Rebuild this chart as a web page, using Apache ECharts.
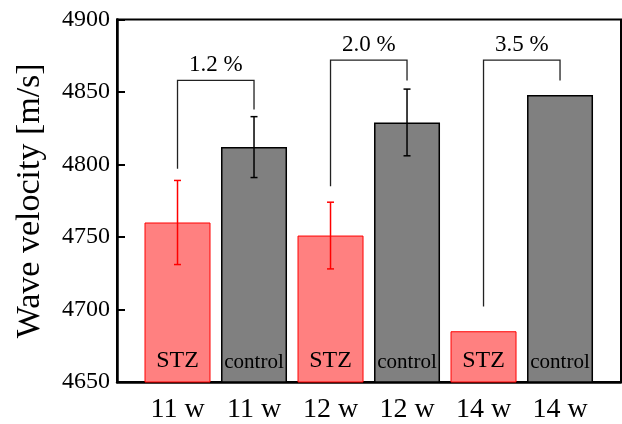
<!DOCTYPE html>
<html>
<head>
<meta charset="utf-8">
<script src="https://cdn.jsdelivr.net/npm/echarts@6/dist/echarts.min.js"></script>
<style>html,body{margin:0;padding:0;background:#fff}#c{width:622px;height:424px}</style>
</head>
<body>
<div id="c"></div>
<script>
// ---- data ----
const categories = ['11 w', '11 w', '12 w', '12 w', '14 w', '14 w'];
const groups = ['STZ', 'control', 'STZ', 'control', 'STZ', 'control'];
const values = [4760, 4812, 4751, 4829, 4685, 4848];
const errors = [29, 21, 23, 23, null, null];
const yTicks = [4650, 4700, 4750, 4800, 4850, 4900];
// brackets: left index, right index, top value, left end value, right end value
const bracketLeft = [0, 2, 4];
const bracketRight = [1, 3, 5];
const bracketTop = [4858, 4872, 4872];
const bracketLeftEnd = [4797, 4785, 4702];
const bracketRightEnd = [4838, 4858, 4858];
const bracketLabels = ['1.2 %', '2.0 %', '3.5 %'];

// ---- styles ----
const FONT = '"Liberation Serif", "Times New Roman", serif';
const groupStyle = {
  STZ: { fill: '#ff8080', border: '#ff0000', borderWidth: 1, err: '#ff0000', labelSize: 24 },
  control: { fill: '#808080', border: '#000000', borderWidth: 1.5, err: '#000000', labelSize: 21 }
};

const barData = values.map((v, i) => {
  const s = groupStyle[groups[i]];
  return {
    value: [i, v],
    itemStyle: { color: s.fill, borderColor: s.border, borderWidth: s.borderWidth },
    label: {
      show: true, position: 'insideBottom', distance: 10,
      formatter: groups[i], fontFamily: FONT, fontSize: s.labelSize, color: '#000'
    }
  };
});

const errData = [];
values.forEach((v, i) => {
  if (errors[i] != null) errData.push([i, v - errors[i], v + errors[i], i]);
});

const bracketData = bracketLeft.map((l, k) => [l, bracketRight[k], bracketTop[k], bracketLeftEnd[k], bracketRightEnd[k]]);

const chart = echarts.init(document.getElementById('c'), null, { renderer: 'canvas' });
chart.setOption({
  animation: false,
  grid: { left: 117, right: 1, top: 19.5, bottom: 42, show: true, borderColor: '#000', borderWidth: 2, containLabel: false },
  xAxis: {
    type: 'value', min: -0.791, max: 5.797,
    splitLine: { show: false },
    axisLine: { show: true, onZero: false, lineStyle: { color: '#000', width: 2.5 } },
    axisTick: { show: false },
    axisLabel: {
      customValues: categories.map((c, i) => i),
      formatter: (v) => categories[Math.round(v)],
      fontFamily: FONT, fontSize: 28, color: '#000', margin: 14
    }
  },
  yAxis: {
    type: 'value', min: yTicks[0], max: yTicks[yTicks.length - 1], interval: 50,
    splitLine: { show: false },
    axisLine: { show: true, onZero: false, lineStyle: { color: '#000', width: 2.5 } },
    axisTick: { show: true, inside: true, length: 8, lineStyle: { color: '#000', width: 2 } },
    axisLabel: { fontFamily: FONT, fontSize: 24, color: '#000', margin: 7, formatter: (v) => String(v) },
    name: 'Wave velocity [m/s]', nameLocation: 'middle', nameGap: 70,
    nameTextStyle: { fontFamily: FONT, fontSize: 34, color: '#000' }
  },
  series: [
    {
      type: 'bar', data: barData, barWidth: 66, clip: true
    },
    {
      type: 'custom', data: errData, z: 5,
      renderItem: (params, api) => {
        const i = api.value(3);
        const color = groupStyle[groups[i]].err;
        const lo = api.coord([api.value(0), api.value(1)]);
        const hi = api.coord([api.value(0), api.value(2)]);
        const hw = 3.5;
        const st = { stroke: color, lineWidth: 1.5 };
        return {
          type: 'group', children: [
            { type: 'line', shape: { x1: lo[0], y1: lo[1], x2: hi[0], y2: hi[1] }, style: st },
            { type: 'line', shape: { x1: lo[0] - hw, y1: lo[1], x2: lo[0] + hw, y2: lo[1] }, style: st },
            { type: 'line', shape: { x1: hi[0] - hw, y1: hi[1], x2: hi[0] + hw, y2: hi[1] }, style: st }
          ]
        };
      }
    },
    {
      type: 'custom', data: bracketData, z: 5,
      renderItem: (params, api) => {
        const k = params.dataIndex;
        const pL = api.coord([api.value(0), api.value(3)]);
        const pTL = api.coord([api.value(0), api.value(2)]);
        const pTR = api.coord([api.value(1), api.value(2)]);
        const pR = api.coord([api.value(1), api.value(4)]);
        return {
          type: 'group', children: [
            { type: 'polyline', shape: { points: [pL, pTL, pTR, pR] }, style: { stroke: '#222', lineWidth: 1.3, fill: null } },
            { type: 'text', x: (pTL[0] + pTR[0]) / 2, y: pTL[1] - 4,
              style: { text: bracketLabels[k], font: '23px ' + FONT, fill: '#000', align: 'center', verticalAlign: 'bottom' } }
          ]
        };
      }
    }
  ]
});
</script>
</body>
</html>
